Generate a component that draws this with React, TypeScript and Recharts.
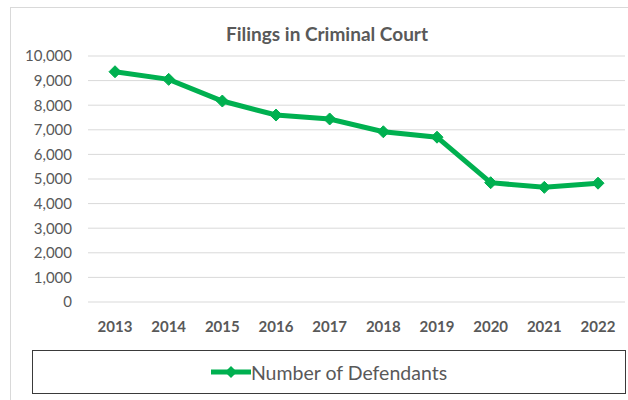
import React from "react";
import {
  LineChart,
  Line,
  XAxis,
  YAxis,
  CartesianGrid,
  Legend,
} from "recharts";

const years = ["2013", "2014", "2015", "2016", "2017", "2018", "2019", "2020", "2021", "2022"];
const defendants = [9360, 9050, 8170, 7600, 7440, 6920, 6700, 4850, 4660, 4830];
const yTicks = [0, 1000, 2000, 3000, 4000, 5000, 6000, 7000, 8000, 9000, 10000];

const GREEN = "#00B050";
const TEXT = "#595959";
const FONT = "Lato, 'Open Sans', sans-serif";

const data = years.map((year, i) => ({ year, defendants: defendants[i] }));

function Diamond(props: any) {
  const { cx, cy, index } = props;
  if (cx == null || cy == null) return null;
  const r = 6;
  return (
    <polygon
      key={`d-${index}`}
      points={`${cx},${cy - r} ${cx + r},${cy} ${cx},${cy + r} ${cx - r},${cy}`}
      fill={GREEN}
      stroke={GREEN}
      strokeWidth={1}
    />
  );
}

function LegendBox() {
  return (
    <div
      style={{
        boxSizing: "border-box",
        width: "100%",
        height: "100%",
        border: "1.5px solid #3a3a3a",
        display: "flex",
        alignItems: "center",
        justifyContent: "center",
        fontFamily: FONT,
        fontSize: 19.5,
        color: TEXT,
      }}
    >
      <svg width={40} height={14} style={{ marginRight: 0 }}>
        <line x1={0} y1={7} x2={40} y2={7} stroke={GREEN} strokeWidth={5} />
        <polygon points="20,1 26,7 20,13 14,7" fill={GREEN} />
      </svg>
      <span>Number of Defendants</span>
    </div>
  );
}

export default function App() {
  return (
    <div
      style={{
        position: "fixed",
        left: 0,
        top: 0,
        width: 628,
        height: 400,
        background: "#fff",
        overflow: "hidden",
      }}
    >
      <div
        style={{
          position: "absolute",
          left: 10,
          top: 7,
          width: 640,
          height: 420,
          border: "1px solid #d9d9d9",
        }}
      />
      <div
        style={{
          position: "absolute",
          left: 0,
          top: 22,
          width: 654,
          textAlign: "center",
          fontFamily: FONT,
          fontWeight: 700,
          fontSize: 19,
          color: TEXT,
        }}
      >
        Filings in Criminal Court
      </div>
      <LineChart
        width={628}
        height={400}
        data={data}
        margin={{ top: 56, right: 3, left: 10, bottom: 58 }}
        style={{ position: "absolute", left: 0, top: 0 }}
      >
        <CartesianGrid vertical={false} stroke="#d9d9d9" strokeWidth={1} />
        <XAxis
          dataKey="year"
          axisLine={false}
          tickLine={false}
          tickMargin={13}
          height={40}
          padding={{ left: 27, right: 27 }}
          interval={0}
          tick={{ fontSize: 15, fontWeight: 700, fill: TEXT, fontFamily: FONT }}
        />
        <YAxis
          width={78}
          domain={[0, 10000]}
          ticks={yTicks}
          interval={0}
          axisLine={false}
          tickLine={false}
          tickMargin={10}
          tickFormatter={(v: number) => v.toLocaleString("en-US")}
          tick={{ fontSize: 15, fill: TEXT, fontFamily: FONT }}
        />
        <Legend
          layout="vertical"
          verticalAlign="middle"
          align="center"
          content={() => <LegendBox />}
          wrapperStyle={{ left: 32, top: 350, width: 594, height: 44 }}
        />
        <Line
          type="linear"
          dataKey="defendants"
          name="Number of Defendants"
          stroke={GREEN}
          strokeWidth={5}
          dot={Diamond}
          activeDot={false}
          isAnimationActive={false}
        />
      </LineChart>
    </div>
  );
}
